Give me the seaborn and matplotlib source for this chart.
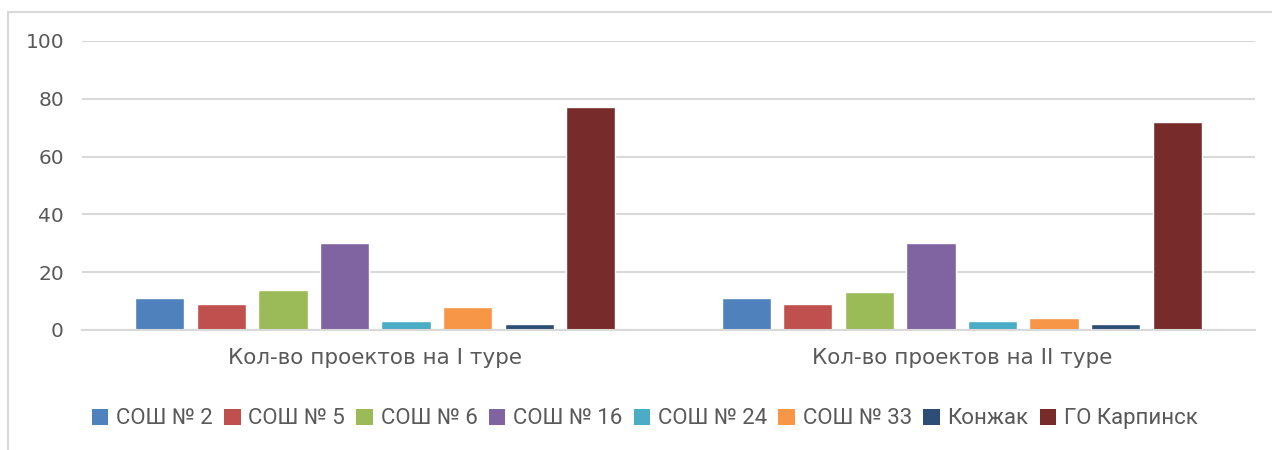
import numpy as np
import pandas as pd
import matplotlib
matplotlib.use('Agg')
import matplotlib.pyplot as plt
import seaborn as sns
from matplotlib.patches import Rectangle, Patch

# Données
tours = ['Кол-во проектов на I туре', 'Кол-во проектов на II туре']
schools = ['СОШ № 2', 'СОШ № 5', 'СОШ № 6', 'СОШ № 16', 'СОШ № 24', 'СОШ № 33', 'Конжак', 'ГО Карпинск']
tour1 = [11, 9, 14, 30, 3, 8, 2, 77]
tour2 = [11, 9, 13, 30, 3, 4, 2, 72]
colors = ['#4F81BD', '#C0504D', '#9BBB59', '#8064A2', '#4BACC6', '#F79646', '#2C4D75', '#772C2A']

df = pd.DataFrame({
    'tour': [tours[0]] * len(schools) + [tours[1]] * len(schools),
    'school': schools + schools,
    'value': tour1 + tour2,
})

sns.set_theme(style='white')
plt.rcParams['font.family'] = ['DejaVu Sans']

fig = plt.figure(figsize=(12.72, 4.5), dpi=100)
ax = fig.add_axes([0.0645, 0.2667, 0.9221, 0.6423])

sns.barplot(data=df, x='tour', y='value', hue='school', order=tours, hue_order=schools,
            palette=colors, width=0.84, gap=0.2, saturation=1, ax=ax, legend=False)

ax.set_ylim(0, 100)
ax.set_xlim(-0.5, 1.5)
ax.set_yticks(range(0, 101, 20))
ax.yaxis.grid(True, color='#D9D9D9', linewidth=1.5)
ax.set_axisbelow(True)
for s in ['top', 'right', 'left']:
    ax.spines[s].set_visible(False)
ax.spines['bottom'].set_color('#D9D9D9')
ax.spines['bottom'].set_linewidth(1.5)
ax.tick_params(axis='x', length=0, labelsize=15.5, labelcolor='#595959', pad=13)
ax.tick_params(axis='y', length=0, labelsize=14.5, labelcolor='#595959', pad=13)
ax.set_xlabel('')
ax.set_ylabel('')

# Légende
handles = [Patch(facecolor=c, edgecolor='none') for c in colors]
fig.legend(handles, schools, loc='center', bbox_to_anchor=(0.507, 0.069), ncol=8,
           frameon=False, handlelength=0.75, handleheight=0.75,
           handletextpad=0.35, columnspacing=0.5, labelcolor='#595959',
           prop={'family': ['Roboto', 'DejaVu Sans'], 'size': 16})

# Cadre du graphique
fig.patches.append(Rectangle((8 / 1272, -0.1), 1.2, 1 - 12 / 450 + 0.1, transform=fig.transFigure,
                             fill=False, edgecolor='#D9D9D9', linewidth=1.5))

plt.savefig('out.png', dpi=100)
